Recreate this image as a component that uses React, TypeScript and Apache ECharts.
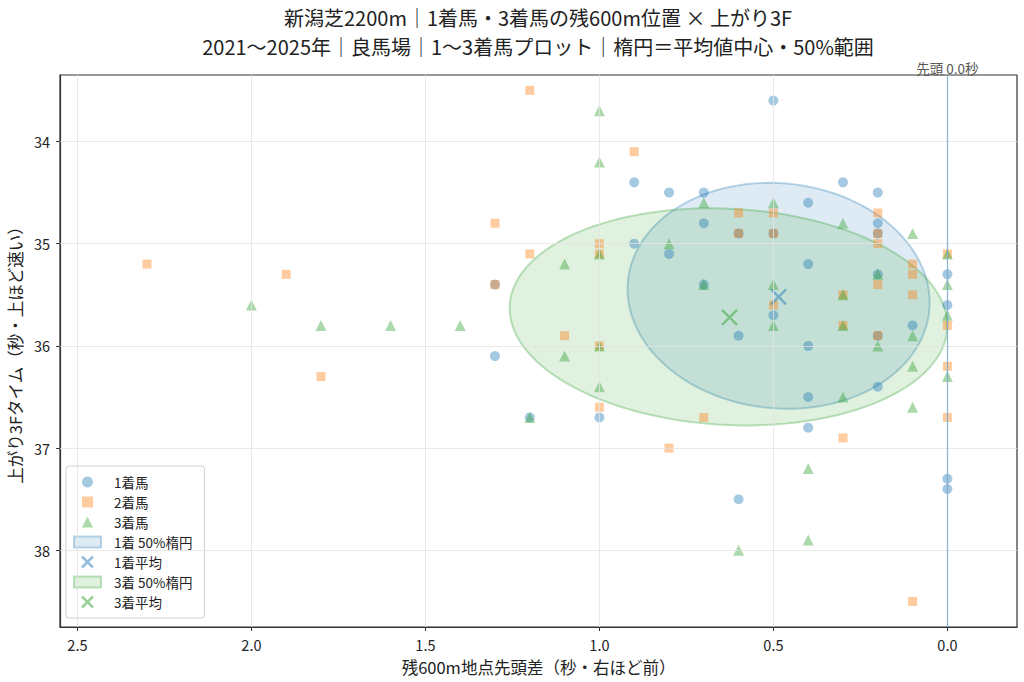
import React, { useEffect, useRef } from "react";
import * as echarts from "echarts";

// ---- data (x: 残600m先頭差 秒, y: 上がり3F 秒) ----
const first: number[][] = [
  [1.3, 35.4], [1.3, 36.1], [1.2, 36.7], [0.5, 33.6], [0.9, 34.4], [0.8, 34.5],
  [0.7, 34.5], [0.3, 34.4], [0.2, 34.5], [0.4, 34.6], [0.7, 34.8], [0.2, 34.8],
  [0.6, 34.9], [0.5, 34.9], [0.2, 34.9], [0.9, 35.0], [0.8, 35.1], [0.4, 35.2],
  [0.2, 35.3], [0.0, 35.3], [0.7, 35.4], [0.0, 35.6], [0.5, 35.7], [0.1, 35.8],
  [0.6, 35.9], [0.2, 35.9], [0.4, 36.0], [0.4, 36.5], [0.2, 36.4], [1.0, 36.7],
  [0.4, 36.8], [0.0, 37.3], [0.0, 37.4], [0.6, 37.5],
];
const second: number[][] = [
  [1.2, 33.5], [1.3, 34.8], [1.2, 35.1], [1.3, 35.4], [2.3, 35.2], [1.9, 35.3],
  [1.8, 36.3], [0.9, 34.1], [0.6, 34.7], [0.5, 34.7], [0.2, 34.7], [0.6, 34.9],
  [0.5, 34.9], [0.2, 34.9], [0.2, 35.0], [1.0, 35.0], [1.0, 35.1], [0.0, 35.1],
  [0.1, 35.2], [0.1, 35.3], [0.2, 35.4], [0.3, 35.5], [0.1, 35.5], [0.5, 35.6],
  [0.3, 35.8], [0.0, 35.8], [0.2, 35.9], [1.1, 35.9], [1.0, 36.0], [0.0, 36.2],
  [1.0, 36.6], [0.7, 36.7], [0.0, 36.7], [0.3, 36.9], [0.8, 37.0], [0.1, 38.5],
];
const third: number[][] = [
  [2.0, 35.6], [1.8, 35.8], [1.6, 35.8], [1.4, 35.8], [1.2, 36.7], [1.0, 33.7],
  [1.0, 34.2], [0.7, 34.6], [0.5, 34.6], [0.3, 34.8], [0.1, 34.9], [0.8, 35.0],
  [1.0, 35.1], [1.1, 35.2], [0.0, 35.1], [0.2, 35.3], [0.0, 35.4], [0.7, 35.4],
  [0.5, 35.4], [0.3, 35.5], [0.0, 35.7], [0.5, 35.8], [0.3, 35.8], [0.1, 35.9],
  [1.0, 36.0], [0.2, 36.0], [1.1, 36.1], [0.1, 36.2], [0.0, 36.3], [1.0, 36.4],
  [0.3, 36.5], [0.1, 36.6], [0.4, 37.2], [0.4, 37.9], [0.6, 38.0],
];
// means
const mean1: number[] = [0.485, 35.52];
const mean3: number[] = [0.626, 35.72];
// 50% ellipses: [cx, cy, half-width x, half-height y, phase tilt]
const ellipse1: number[] = [0.485, 35.51, 0.434, 1.105, -0.06];
const ellipse3: number[] = [0.629, 35.716, 0.629, 1.062, -0.08];

const xTicks: number[] = [0.0, 0.5, 1.0, 1.5, 2.0, 2.5];
const yTicks: number[] = [34, 35, 36, 37, 38];
const xRange: number[] = [-0.2, 2.55];
const yRange: number[] = [33.35, 38.75];
const leadLine = 0.0;

const TITLE = "新潟芝2200m｜1着馬・3着馬の残600m位置 × 上がり3F";
const SUBTITLE = "2021～2025年｜良馬場｜1～3着馬プロット｜楕円＝平均値中心・50%範囲";

const FONT = "'Noto Sans CJK JP', 'Noto Sans', sans-serif";
const C1 = "31,119,180";
const C2 = "255,127,14";
const C3 = "44,160,44";
const XPATH = "path://M0,0L10,10M10,0L0,10";
const SQPATH = "path://M0,0H10V10H0Z";
const TRIPATH = "path://M5,0L10,10H0Z";

function ellipseRender(fill: string, stroke: string) {
  return (params: any, api: any) => {
    const cx = api.value(0);
    const cy = api.value(1);
    const ax = api.value(2);
    const ay = api.value(3);
    const ph = api.value(4);
    const pts: number[][] = [];
    const n = 120;
    for (let i = 0; i < n; i++) {
      const t = (i / n) * Math.PI * 2;
      pts.push(api.coord([cx + ax * Math.cos(t), cy + ay * Math.sin(t + ph)]));
    }
    return {
      type: "polygon",
      shape: { points: pts },
      style: { fill, stroke, lineWidth: 2 },
    };
  };
}

export default function App() {
  const ref = useRef<HTMLDivElement>(null);
  useEffect(() => {
    if (!ref.current) return;
    const chart = echarts.init(ref.current, null, { renderer: "svg" });
    const option: any = {
      animation: false,
      textStyle: { fontFamily: FONT },
      title: {
        text: TITLE,
        subtext: SUBTITLE,
        left: 538,
        top: 3,
        padding: 0,
        itemGap: 0,
        textAlign: "center",
        textStyle: { fontFamily: FONT, fontSize: 20, fontWeight: "normal", color: "#222", lineHeight: 29 },
        subtextStyle: { fontFamily: FONT, fontSize: 20, fontWeight: "normal", color: "#222", lineHeight: 29 },
      },
      grid: {
        left: 60, right: 7, top: 75, bottom: 55,
        outerBoundsMode: "none",
        containLabel: false,
        show: true, borderColor: "#333", borderWidth: 1.2, backgroundColor: "transparent",
      },
      legend: {
        orient: "vertical",
        left: 66,
        top: 466,
        padding: [9, 12, 9, 7],
        itemGap: 6,
        itemWidth: 27,
        itemHeight: 11,
        borderColor: "#d0d0d0",
        borderWidth: 1,
        borderRadius: 3,
        backgroundColor: "rgba(255,255,255,0.85)",
        textStyle: { fontFamily: FONT, fontSize: 13.5, color: "#222", lineHeight: 14, padding: [0, 0, 0, 8] },
        data: [
          { name: "1着馬", icon: "circle", itemStyle: { color: `rgba(${C1},0.5)` } },
          { name: "2着馬", icon: SQPATH, itemStyle: { color: `rgba(${C2},0.5)` } },
          { name: "3着馬", icon: TRIPATH, itemStyle: { color: `rgba(${C3},0.5)` } },
          { name: "1着 50%楕円", icon: "rect", itemStyle: { color: `rgba(${C1},0.15)`, borderColor: `rgba(${C1},0.3)`, borderWidth: 2 } },
          { name: "1着平均", icon: XPATH, itemStyle: { color: "transparent", borderColor: `rgba(${C1},0.6)`, borderWidth: 2.5 } },
          { name: "3着 50%楕円", icon: "rect", itemStyle: { color: `rgba(${C3},0.15)`, borderColor: `rgba(${C3},0.3)`, borderWidth: 2 } },
          { name: "3着平均", icon: XPATH, itemStyle: { color: "transparent", borderColor: `rgba(${C3},0.6)`, borderWidth: 2.5 } },
        ],
      },
      xAxis: {
        type: "value",
        inverse: true,
        min: xRange[0],
        max: xRange[1],
        name: "残600m地点先頭差（秒・右ほど前）",
        nameLocation: "middle",
        nameGap: 31,
        nameTextStyle: { fontFamily: FONT, fontSize: 16.5, color: "#222", lineHeight: 17 },
        axisLine: { show: true, onZero: false, lineStyle: { color: "#333", width: 1.2 } },
        axisTick: { show: true, customValues: xTicks, length: 4, lineStyle: { color: "#333" } },
        axisLabel: { show: true, customValues: xTicks, formatter: (v: number) => v.toFixed(1), fontFamily: FONT, fontSize: 14.5, lineHeight: 15, color: "#222", margin: 10 },
        splitLine: { show: false },
      },
      yAxis: {
        type: "value",
        inverse: true,
        min: yRange[0],
        max: yRange[1],
        name: "上がり3Fタイム（秒・上ほど速い）",
        nameLocation: "middle",
        nameGap: 35,
        nameTextStyle: { fontFamily: FONT, fontSize: 16.5, color: "#222", lineHeight: 17 },
        axisLine: { show: true, onZero: false, lineStyle: { color: "#333", width: 1.2 } },
        axisTick: { show: true, customValues: yTicks, length: 4, lineStyle: { color: "#333" } },
        axisLabel: { show: true, customValues: yTicks, formatter: (v: number) => String(Math.round(v)), fontFamily: FONT, fontSize: 14.5, color: "#222", margin: 10 },
        splitLine: { show: false },
      },
      series: [
        {
          name: "grid",
          type: "line",
          data: [],
          z: 1,
          silent: true,
          markLine: {
            silent: true,
            symbol: ["none", "none"],
            label: { show: false },
            lineStyle: { color: "#e3e3e3", width: 0.8, type: "solid" },
            data: [
              ...xTicks.map((v) => ({ xAxis: v })),
              ...yTicks.map((v) => ({ yAxis: v })),
            ],
          },
        },
        {
          name: "lead",
          type: "line",
          data: [],
          z: 3,
          silent: true,
          markLine: {
            silent: true,
            symbol: ["none", "none"],
            label: { show: false },
            lineStyle: { color: `rgba(${C1},0.45)`, width: 1.3, type: "solid" },
            data: [{ xAxis: leadLine }],
          },
        },
        {
          name: "1着馬", type: "scatter", z: 2, symbol: "circle", symbolSize: 10,
          itemStyle: { color: `rgba(${C1},0.5)` }, data: first,
        },
        {
          name: "2着馬", type: "scatter", z: 2, symbol: "rect", symbolSize: 9,
          itemStyle: { color: `rgba(${C2},0.5)` }, data: second,
        },
        {
          name: "3着馬", type: "scatter", z: 2, symbol: "triangle", symbolSize: 11,
          itemStyle: { color: `rgba(${C3},0.5)` }, data: third,
        },
        {
          name: "1着 50%楕円", type: "custom", z: 2, silent: true,
          renderItem: ellipseRender(`rgba(${C1},0.15)`, `rgba(${C1},0.3)`),
          encode: { x: 0, y: 1 },
          data: [ellipse1],
        },
        {
          name: "1着平均", type: "scatter", z: 4, symbol: XPATH, symbolSize: 15,
          itemStyle: { color: "transparent", borderColor: `rgba(${C1},0.6)`, borderWidth: 2.5 },
          data: [mean1],
        },
        {
          name: "3着 50%楕円", type: "custom", z: 2, silent: true,
          renderItem: ellipseRender(`rgba(${C3},0.15)`, `rgba(${C3},0.3)`),
          encode: { x: 0, y: 1 },
          data: [ellipse3],
        },
        {
          name: "3着平均", type: "scatter", z: 4, symbol: XPATH, symbolSize: 15,
          itemStyle: { color: "transparent", borderColor: `rgba(${C3},0.6)`, borderWidth: 2.5 },
          data: [mean3],
        },
      ],
    };
    chart.setOption(option);
    const px = chart.convertToPixel({ xAxisIndex: 0 }, leadLine) as number;
    chart.setOption({
      graphic: [
        {
          type: "text",
          x: px,
          y: 75,
          silent: true,
          style: {
            text: "先頭 0.0秒",
            fontFamily: FONT,
            fontSize: 13.5,
            fill: "#555",
            align: "center",
            verticalAlign: "bottom",
          },
        },
      ],
    });
    return () => chart.dispose();
  }, []);
  return (
    <div
      ref={ref}
      style={{ position: "absolute", left: 0, top: 0, width: 1024, height: 682, background: "#fff" }}
    />
  );
}
